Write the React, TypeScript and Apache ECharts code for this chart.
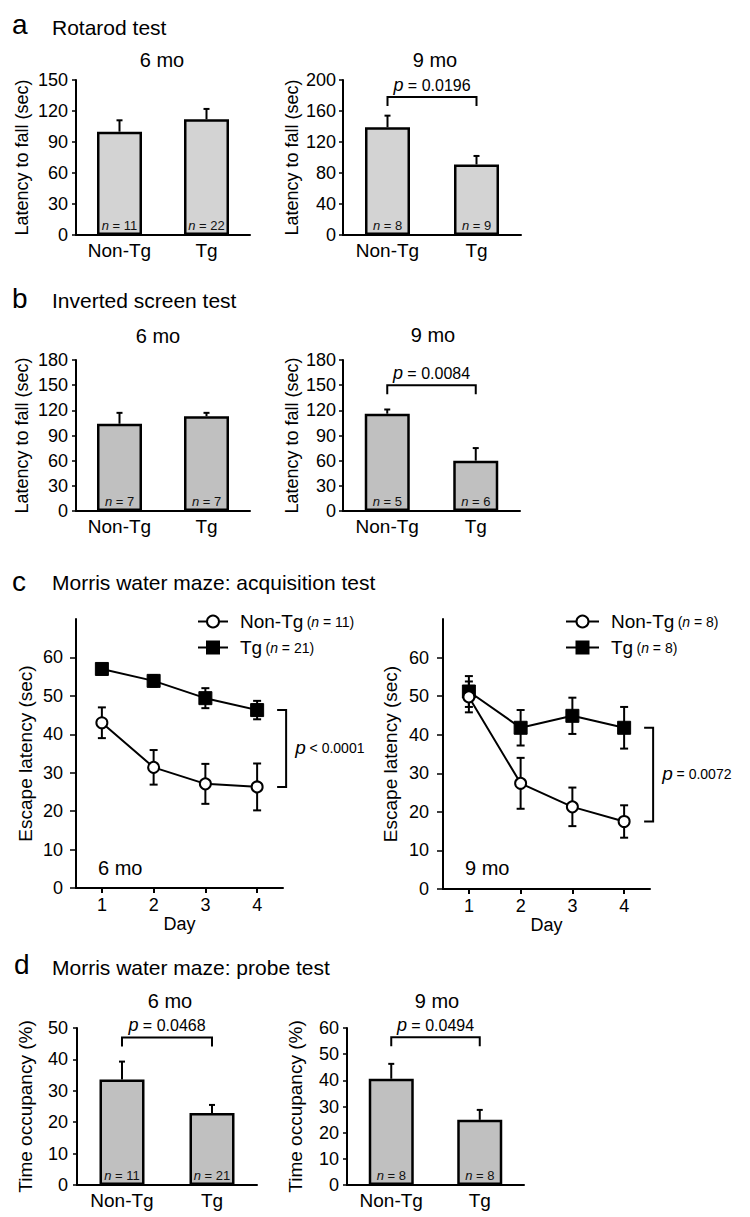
import React, { useEffect, useRef } from 'react';
import * as echarts from 'echarts';

const FONT = "'Liberation Sans', Arial, Helvetica, sans-serif";
const INK = '#000';

// ---------------- data ----------------
const groups = ['Non-Tg', 'Tg'];

// a: Rotarod test
const rotarod6Mean = [100, 112];
const rotarod6Sem = [11, 10];
const rotarod6N = [11, 22];
const rotarod6Ticks = [0, 150, 30];

const rotarod9Mean = [139, 91];
const rotarod9Sem = [15, 11];
const rotarod9N = [8, 9];
const rotarod9Ticks = [0, 200, 40];
const rotarod9P = '= 0.0196';
const rotarod9BracketAt = 178;

// b: Inverted screen test
const screen6Mean = [104, 113];
const screen6Sem = [13, 4];
const screen6N = [7, 7];
const screen6Ticks = [0, 180, 30];

const screen9Mean = [116, 60];
const screen9Sem = [5, 15];
const screen9N = [5, 6];
const screen9Ticks = [0, 180, 30];
const screen9P = '= 0.0084';
const screen9BracketAt = 150;

// c: Morris water maze acquisition
const days = ['1', '2', '3', '4'];
const acqTicks = [0, 70, 10];
const acq6NonTg = [43, 31.4, 27.1, 26.3];
const acq6NonTgSem = [4, 4.5, 5.2, 6.1];
const acq6Tg = [57, 53.9, 49.4, 46.3];
const acq6TgSem = [1, 1.5, 2.6, 2.4];
const acq6N = [11, 21];
const acq6P = '< 0.0001';

const acq9NonTg = [49.8, 27.4, 21.3, 17.5];
const acq9NonTgSem = [4, 6.6, 5, 4.2];
const acq9Tg = [51.2, 41.8, 44.9, 41.8];
const acq9TgSem = [4, 4.6, 4.7, 5.4];
const acq9N = [8, 8];
const acq9P = '= 0.0072';

// d: Morris water maze probe
const probe6Mean = [33.6, 22.9];
const probe6Sem = [5.7, 2.6];
const probe6N = [11, 21];
const probe6Ticks = [0, 50, 10];
const probe6P = '= 0.0468';
const probe6BracketAt = 47;

const probe9Mean = [40.6, 24.9];
const probe9Sem = [5.7, 3.8];
const probe9N = [8, 8];
const probe9Ticks = [0, 60, 10];
const probe9P = '= 0.0494';
const probe9BracketAt = 56.5;

// ---------------- builders ----------------
const grids: any[] = [];
const xAxes: any[] = [];
const yAxes: any[] = [];
const series: any[] = [];
const legends: any[] = [];

function valueAxis(gi: number, ticks: number[], name: string, nameGap: number, margin: number, tickLen: number, fontSize: number, hideMax = false) {
  return {
    type: 'value',
    gridIndex: gi,
    min: ticks[0],
    max: ticks[1],
    interval: ticks[2],
    axisLine: { show: true, lineStyle: { color: INK, width: 2 } },
    axisTick: { show: true, length: tickLen, lineStyle: { color: INK, width: 1.5 } },
    splitLine: { show: false },
    axisLabel: { color: INK, fontSize, fontFamily: FONT, margin, showMaxLabel: !hideMax },
    name,
    nameLocation: 'middle',
    nameGap,
    nameTextStyle: { color: INK, fontSize: name.startsWith('Latency') ? 18 : 19, fontFamily: FONT },
  };
}

const pRich = (pSize: number, tSize: number) => ({
  p: { fontStyle: 'italic', fontSize: pSize, fontFamily: FONT, fill: INK, color: INK },
  t: { fontSize: tSize, fontFamily: FONT, fill: INK, color: INK },
});

function addBarPanel(grid: any, o: { mean: number[]; sem: number[]; n: number[]; ticks: number[]; fill: string; yName: string; nameGap: number; margin: number; p?: string; bracketAt?: number }) {
  const gi = grids.length;
  grids.push(grid);
  xAxes.push({
    type: 'category',
    gridIndex: gi,
    data: groups,
    axisLine: { lineStyle: { color: INK, width: 2 } },
    axisTick: { show: false },
    axisLabel: { color: INK, fontSize: 19, fontFamily: FONT, margin: 6 },
  });
  yAxes.push(valueAxis(gi, o.ticks, o.yName, o.nameGap, o.margin, 4, 18));
  series.push({
    type: 'bar',
    xAxisIndex: gi,
    yAxisIndex: gi,
    data: o.mean,
    barWidth: 45,
    silent: true,
    z: 3,
    itemStyle: { color: o.fill, borderColor: INK, borderWidth: 2.5 },
    label: {
      show: true,
      position: 'insideBottom',
      distance: 3,
      formatter: (p: any) => `{i|n}{t| = ${o.n[p.dataIndex]}}`,
      rich: {
        i: { fontStyle: 'italic', fontSize: 13, fontFamily: FONT, color: '#111' },
        t: { fontSize: 13, fontFamily: FONT, color: '#111' },
      },
    },
  });
  series.push({
    type: 'custom',
    xAxisIndex: gi,
    yAxisIndex: gi,
    z: 2,
    silent: true,
    encode: { x: 0, y: 1 },
    data: o.mean.map((m, i) => [i, m, o.sem[i]]),
    renderItem: (_: any, api: any) => {
      const x = api.value(0);
      const m = api.value(1);
      const e = api.value(2);
      const a = api.coord([x, m]);
      const b = api.coord([x, m + e]);
      return {
        type: 'group',
        children: [
          { type: 'line', shape: { x1: a[0], y1: a[1], x2: b[0], y2: b[1] }, style: { stroke: INK, lineWidth: 2 } },
          { type: 'line', shape: { x1: b[0] - 3, y1: b[1], x2: b[0] + 3, y2: b[1] }, style: { stroke: INK, lineWidth: 2 } },
        ],
      };
    },
  });
  if (o.p && o.bracketAt !== undefined) {
    const pText = o.p;
    series.push({
      type: 'custom',
      xAxisIndex: gi,
      yAxisIndex: gi,
      z: 4,
      silent: true,
      encode: { x: 0, y: 1 },
      data: [[0, o.bracketAt]],
      renderItem: (_: any, api: any) => {
        const lvl = api.value(1);
        const a = api.coord([0, lvl]);
        const b = api.coord([groups.length - 1, lvl]);
        return {
          type: 'group',
          children: [
            {
              type: 'polyline',
              shape: { points: [[a[0], a[1] + 9], [a[0], a[1]], [b[0], b[1]], [b[0], b[1] + 9]] },
              style: { stroke: INK, lineWidth: 2, fill: 'none' },
            },
            {
              type: 'text',
              x: (a[0] + b[0]) / 2,
              y: a[1] - 3,
              style: { text: `{p|p}{t| ${pText}}`, rich: pRich(18, 16), align: 'center', verticalAlign: 'bottom', fill: INK },
            },
          ],
        };
      },
    });
  }
}

function errSeries(gi: number, mean: number[], sem: number[]) {
  return {
    type: 'custom',
    xAxisIndex: gi,
    yAxisIndex: gi,
    z: 2,
    silent: true,
    encode: { x: 0, y: 1 },
    data: mean.map((m, i) => [i, m, sem[i]]),
    renderItem: (_: any, api: any) => {
      const x = api.value(0);
      const m = api.value(1);
      const e = api.value(2);
      const lo = api.coord([x, m - e]);
      const hi = api.coord([x, m + e]);
      return {
        type: 'group',
        children: [
          { type: 'line', shape: { x1: lo[0], y1: lo[1], x2: hi[0], y2: hi[1] }, style: { stroke: INK, lineWidth: 2 } },
          { type: 'line', shape: { x1: hi[0] - 4, y1: hi[1], x2: hi[0] + 4, y2: hi[1] }, style: { stroke: INK, lineWidth: 2 } },
          { type: 'line', shape: { x1: lo[0] - 4, y1: lo[1], x2: lo[0] + 4, y2: lo[1] }, style: { stroke: INK, lineWidth: 2 } },
        ],
      };
    },
  };
}

function addLinePanel(grid: any, o: { nonTg: number[]; nonTgSem: number[]; tg: number[]; tgSem: number[]; n: number[]; p: string; nameGap: number; margin: number; legendLeft: number; legendTop: number; legendWidth: number }) {
  const gi = grids.length;
  grids.push(grid);
  xAxes.push({
    type: 'category',
    gridIndex: gi,
    data: days,
    boundaryGap: true,
    axisLine: { lineStyle: { color: INK, width: 2 } },
    axisTick: { show: true, alignWithLabel: true, length: 5, lineStyle: { color: INK, width: 2 } },
    axisLabel: { color: INK, fontSize: 18, fontFamily: FONT, margin: 8 },
    name: 'Day',
    nameLocation: 'middle',
    nameGap: 26,
    nameTextStyle: { color: INK, fontSize: 18, fontFamily: FONT },
  });
  yAxes.push(valueAxis(gi, acqTicks, 'Escape latency (sec)', o.nameGap, o.margin, 6, 18, true));
  const names = groups.map((g, i) => `${g} (n = ${o.n[i]})`);
  series.push(errSeries(gi, o.tg, o.tgSem));
  series.push(errSeries(gi, o.nonTg, o.nonTgSem));
  series.push({
    type: 'line',
    name: names[1],
    xAxisIndex: gi,
    yAxisIndex: gi,
    data: o.tg,
    z: 3,
    silent: true,
    symbol: 'rect',
    symbolSize: 13,
    lineStyle: { color: INK, width: 2 },
    itemStyle: { color: INK, borderColor: INK, borderWidth: 1 },
  });
  series.push({
    type: 'line',
    name: names[0],
    xAxisIndex: gi,
    yAxisIndex: gi,
    data: o.nonTg,
    z: 4,
    silent: true,
    symbol: 'circle',
    symbolSize: 11,
    lineStyle: { color: INK, width: 2 },
    itemStyle: { color: '#fff', borderColor: INK, borderWidth: 2 },
  });
  const last = days.length - 1;
  const pText = o.p;
  series.push({
    type: 'custom',
    xAxisIndex: gi,
    yAxisIndex: gi,
    z: 5,
    silent: true,
    encode: { x: 0, y: 1 },
    data: [[last, o.tg[last], o.nonTg[last]]],
    renderItem: (_: any, api: any) => {
      const x = api.value(0);
      const a = api.coord([x, api.value(1)]);
      const b = api.coord([x, api.value(2)]);
      const bx = a[0] + 29;
      return {
        type: 'group',
        children: [
          {
            type: 'polyline',
            shape: { points: [[bx - 9, a[1]], [bx, a[1]], [bx, b[1]], [bx - 9, b[1]]] },
            style: { stroke: INK, lineWidth: 2, fill: 'none' },
          },
          {
            type: 'text',
            x: bx + 9,
            y: (a[1] + b[1]) / 2 - 1,
            style: { text: `{p|p}{t| ${pText}}`, rich: pRich(19, 14), align: 'left', verticalAlign: 'middle', fill: INK },
          },
        ],
      };
    },
  });
  legends.push({
    data: names,
    orient: 'vertical',
    left: o.legendLeft,
    top: o.legendTop,
    itemWidth: o.legendWidth,
    itemHeight: 15,
    itemGap: 7,
    selectedMode: false,
    itemStyle: { borderColor: INK, borderWidth: 2 },
    lineStyle: { color: INK, width: 2 },
    formatter: (name: string) => {
      const m = name.match(/^(.*) \(n = (\d+)\)$/);
      const g = m ? m[1] : name;
      const n = m ? m[2] : '';
      return `{sp|}{g|${g}} {s|(}{i|n}{s| = ${n})}`;
    },
    textStyle: {
      rich: {
        sp: { width: 7, height: 20 },
        g: { fontSize: 19, fontFamily: FONT, color: INK, lineHeight: 20 },
        s: { fontSize: 14, fontFamily: FONT, color: INK, lineHeight: 20 },
        i: { fontSize: 14, fontStyle: 'italic', fontFamily: FONT, color: INK, lineHeight: 20 },
      },
    },
  });
}

// ---------------- panels ----------------
addBarPanel({ left: 76, top: 80, width: 174, height: 155 }, {
  mean: rotarod6Mean, sem: rotarod6Sem, n: rotarod6N, ticks: rotarod6Ticks, fill: '#d3d3d3',
  yName: 'Latency to fall (sec)', nameGap: 45, margin: 8,
});
addBarPanel({ left: 343, top: 80, width: 178, height: 155 }, {
  mean: rotarod9Mean, sem: rotarod9Sem, n: rotarod9N, ticks: rotarod9Ticks, fill: '#d3d3d3',
  yName: 'Latency to fall (sec)', nameGap: 42, margin: 7, p: rotarod9P, bracketAt: rotarod9BracketAt,
});
addBarPanel({ left: 76, top: 360, width: 174, height: 151 }, {
  mean: screen6Mean, sem: screen6Sem, n: screen6N, ticks: screen6Ticks, fill: '#c0c0c0',
  yName: 'Latency to fall (sec)', nameGap: 45, margin: 8,
});
addBarPanel({ left: 343, top: 360, width: 177, height: 151 }, {
  mean: screen9Mean, sem: screen9Sem, n: screen9N, ticks: screen9Ticks, fill: '#c0c0c0',
  yName: 'Latency to fall (sec)', nameGap: 42, margin: 7, p: screen9P, bracketAt: screen9BracketAt,
});
addLinePanel({ left: 76, top: 619, width: 207, height: 269 }, {
  nonTg: acq6NonTg, nonTgSem: acq6NonTgSem, tg: acq6Tg, tgSem: acq6TgSem, n: acq6N, p: acq6P,
  nameGap: 41, margin: 13, legendLeft: 192, legendTop: 607, legendWidth: 30,
});
addLinePanel({ left: 443, top: 619, width: 207, height: 270 }, {
  nonTg: acq9NonTg, nonTgSem: acq9NonTgSem, tg: acq9Tg, tgSem: acq9TgSem, n: acq9N, p: acq9P,
  nameGap: 43, margin: 14, legendLeft: 560, legendTop: 607, legendWidth: 33,
});
addBarPanel({ left: 77, top: 1028, width: 180, height: 157 }, {
  mean: probe6Mean, sem: probe6Sem, n: probe6N, ticks: probe6Ticks, fill: '#c0c0c0',
  yName: 'Time occupancy (%)', nameGap: 42, margin: 9, p: probe6P, bracketAt: probe6BracketAt,
});
addBarPanel({ left: 347, top: 1028, width: 177, height: 157 }, {
  mean: probe9Mean, sem: probe9Sem, n: probe9N, ticks: probe9Ticks, fill: '#c0c0c0',
  yName: 'Time occupancy (%)', nameGap: 42, margin: 8, p: probe9P, bracketAt: probe9BracketAt,
});

// ---------------- headers ----------------
const txt = (text: string, x: number, y: number, size: number, align = 'left') => ({
  type: 'text',
  x,
  y,
  silent: true,
  style: { text, fontSize: size, fontFamily: FONT, fill: INK, align, verticalAlign: 'middle' },
});

const headers = [
  txt('a', 12, 24, 28),
  txt('Rotarod test', 52, 27, 21),
  txt('6 mo', 162, 60, 20, 'center'),
  txt('9 mo', 435, 60, 20, 'center'),
  txt('b', 12, 298, 28),
  txt('Inverted screen test', 52, 300, 21),
  txt('6 mo', 158, 336, 20, 'center'),
  txt('9 mo', 433, 335, 20, 'center'),
  txt('c', 12, 581, 28),
  txt('Morris water maze: acquisition test', 52, 582, 21),
  txt('6 mo', 98, 868, 20),
  txt('9 mo', 465, 868, 20),
  txt('d', 14, 964, 28),
  txt('Morris water maze: probe test', 52, 967, 21),
  txt('6 mo', 170, 1001, 20, 'center'),
  txt('9 mo', 437, 1001, 20, 'center'),
];

function buildOption() {
  return {
    animation: false,
    backgroundColor: '#fff',
    textStyle: { fontFamily: FONT },
    grid: grids,
    xAxis: xAxes,
    yAxis: yAxes,
    legend: legends,
    series,
    graphic: headers,
  };
}

export default function App() {
  const ref = useRef<HTMLDivElement>(null);
  useEffect(() => {
    document.body.style.margin = '0';
    const chart = echarts.init(ref.current as HTMLDivElement, undefined, { renderer: 'svg' });
    chart.setOption(buildOption() as any);
    return () => chart.dispose();
  }, []);
  return <div ref={ref} style={{ width: 750, height: 1217 }} />;
}
